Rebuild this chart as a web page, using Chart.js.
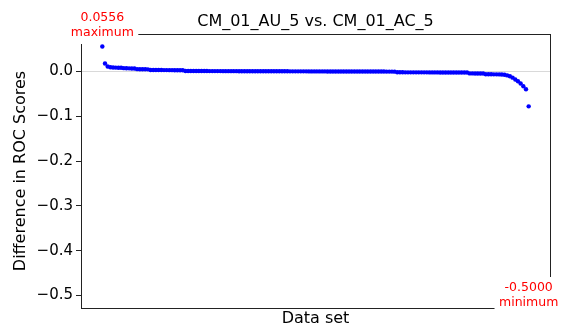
<!DOCTYPE html>
<html>
<head>
<meta charset="utf-8">
<script src="https://cdn.jsdelivr.net/npm/chart.js@4/dist/chart.umd.min.js"></script>
<style>
  body { margin: 0; background: #fff; }
  canvas { display: block; }
</style>
</head>
<body>
<canvas id="chart" width="566" height="329"></canvas>
<script>
// differences in ROC score per data set, sorted descending
const diffs = [
    0.0556, 0.0175, 0.0110,
    0.0092, 0.0088, 0.0085, 0.0082, 0.0080,
    0.0072, 0.0070, 0.0068, 0.0066, 0.0064,
    0.0050, 0.0049, 0.0048, 0.0047, 0.0046,
    0.0032, 0.0031, 0.0031, 0.0030, 0.0030, 0.0029, 0.0029, 0.0028, 0.0028, 0.0027, 0.0027, 0.0026, 0.0026,
    0.0009, 0.0009, 0.0008, 0.0008, 0.0008, 0.0007, 0.0007, 0.0007, 0.0007, 0.0006,
    0.0006, 0.0006, 0.0006, 0.0006, 0.0005, 0.0005, 0.0005, 0.0005, 0.0005, 0.0005,
    0.0004, 0.0004, 0.0004, 0.0004, 0.0004, 0.0004, 0.0003, 0.0003, 0.0003, 0.0003,
    0.0003, 0.0003, 0.0002, 0.0002, 0.0002, 0.0002, 0.0002, 0.0002, 0.0002, 0.0001,
    0.0001, 0.0001, 0.0001, 0.0001, 0.0001, 0.0001, 0.0000, 0.0000, 0.0000, 0.0000,
    0.0000, 0.0000, 0.0000, -0.0001, -0.0001, -0.0001, -0.0001, -0.0001, -0.0001, -0.0001,
    -0.0002, -0.0002, -0.0002, -0.0002, -0.0002, -0.0002, -0.0003, -0.0003, -0.0003, -0.0003,
    -0.0003, -0.0004, -0.0004, -0.0004, -0.0004, -0.0005, -0.0005, -0.0005, -0.0006,
    -0.0020, -0.0020, -0.0020, -0.0021, -0.0021, -0.0021, -0.0021, -0.0022, -0.0022, -0.0022,
    -0.0022, -0.0022, -0.0023, -0.0023, -0.0023, -0.0023, -0.0024, -0.0024, -0.0024, -0.0024,
    -0.0025, -0.0025, -0.0025, -0.0025, -0.0026, -0.0026, -0.0026,
    -0.0045, -0.0045, -0.0046, -0.0046, -0.0047, -0.0047,
    -0.0064, -0.0065, -0.0065, -0.0066, -0.0066, -0.0067, -0.0068,
    -0.0075, -0.0090, -0.0110, -0.0140, -0.0180, -0.0220, -0.0270, -0.0330, -0.0400, -0.0780
];
const yTicks = [0.0, -0.1, -0.2, -0.3, -0.4, -0.5];
const maxLabel = ['0.0556', 'maximum'];
const minLabel = ['-0.5000', 'minimum'];

const points = diffs.map((d, i) => ({ x: i, y: d }));
const n = diffs.length - 1;
const font = '"DejaVu Sans", sans-serif';

// zero line, spines and the two boxed annotations
const decorate = {
    id: 'decorate',
    beforeDatasetsDraw(chart) {
        const { ctx, chartArea: a, scales: { y } } = chart;
        const y0 = Math.round(y.getPixelForValue(0)) + 0.5;
        ctx.save();
        ctx.strokeStyle = '#d9d9d9';
        ctx.lineWidth = 1;
        ctx.beginPath();
        ctx.moveTo(a.left, y0);
        ctx.lineTo(a.right, y0);
        ctx.stroke();
        ctx.restore();
    },
    afterDraw(chart) {
        const { ctx, chartArea: a, scales: { x } } = chart;
        ctx.save();
        ctx.strokeStyle = '#222';
        ctx.lineWidth = 1;
        ctx.strokeRect(a.left + 0.5, a.top + 0.5, a.right - a.left, a.bottom - a.top);

        ctx.font = '12.5px ' + font;
        ctx.textAlign = 'center';
        ctx.textBaseline = 'middle';
        const box = (lines, cx, cy1, cy2) => {
            const w = Math.max(...lines.map(t => ctx.measureText(t).width)) + 9;
            ctx.fillStyle = '#fff';
            ctx.fillRect(cx - w / 2, cy1 - 11, w, cy2 - cy1 + 22);
            ctx.fillStyle = '#ff0000';
            ctx.fillText(lines[0], cx, cy1);
            ctx.fillText(lines[1], cx, cy2);
        };
        box(maxLabel, x.getPixelForValue(0), a.top - 16, a.top - 1);
        box(minLabel, x.getPixelForValue(n), a.bottom - 20, a.bottom - 5);
        ctx.restore();
    }
};

new Chart(document.getElementById('chart'), {
    type: 'scatter',
    data: {
        datasets: [{
            data: points,
            backgroundColor: '#0000ff',
            borderWidth: 0,
            pointRadius: 2.2
        }]
    },
    options: {
        responsive: false,
        animation: false,
        devicePixelRatio: 1,
        layout: { padding: { right: 16 } },
        plugins: {
            legend: { display: false },
            tooltip: { enabled: false },
            title: {
                display: true,
                text: 'CM_01_AU_5 vs. CM_01_AC_5',
                fullSize: false,
                color: '#000',
                font: { family: font, size: 16, weight: 'normal', lineHeight: 1.2 },
                padding: { top: 12, bottom: 2.8 }
            }
        },
        scales: {
            x: {
                type: 'linear',
                min: -n * 0.05,
                max: n * 1.05,
                ticks: { display: false },
                grid: { display: false },
                border: { display: false },
                title: {
                    display: true,
                    text: 'Data set',
                    color: '#000',
                    font: { family: font, size: 16, lineHeight: 1.2 },
                    padding: { top: 0, bottom: 1 }
                },
                afterFit(scale) { scale.height = 21; }
            },
            y: {
                min: -0.5278,
                max: 0.0834,
                afterBuildTicks(scale) {
                    scale.ticks = yTicks.map(v => ({ value: v }));
                },
                ticks: {
                    color: '#000',
                    padding: 3,
                    font: { family: font, size: 15 },
                    callback: v => (v < 0 ? '\u2212' : '') + Math.abs(v).toFixed(1)
                },
                grid: {
                    drawOnChartArea: false,
                    color: '#222',
                    tickLength: 5
                },
                border: { display: false },
                title: {
                    display: true,
                    text: 'Difference in ROC Scores',
                    color: '#000',
                    font: { family: font, size: 16, lineHeight: 1.2 },
                    padding: { top: 11, bottom: 0 }
                },
                afterFit(scale) { scale.width = 81; }
            }
        }
    },
    plugins: [decorate]
});
</script>
</body>
</html>
